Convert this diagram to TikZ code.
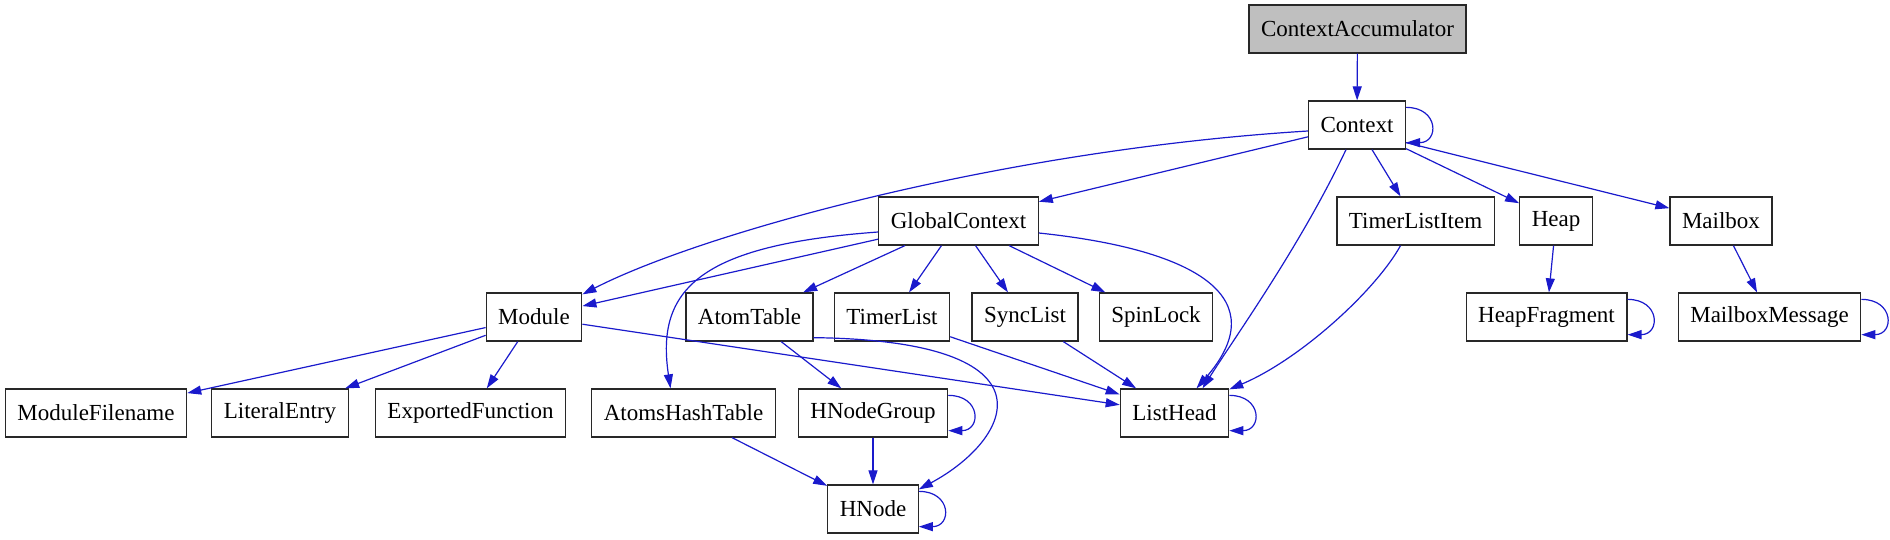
\documentclass[tikz,border=0pt]{standalone}
\usepackage{fontspec}
\setmainfont{Liberation Serif}
\usepackage{tikz}
\usetikzlibrary{arrows.meta}
\definecolor{edgeblue}{RGB}{26,26,204}
\definecolor{rootgray}{RGB}{191,191,191}
\definecolor{boxline}{RGB}{40,40,40}

\begin{document}
\begin{tikzpicture}[
    x=1pt, y=-1pt,
    every node/.style={font=\fontsize{23}{27}\selectfont},
    classbox/.style={draw=boxline, fill=white, line width=1.3pt, inner xsep=12pt, inner ysep=0pt, minimum height=48pt},
    rootbox/.style={classbox, fill=rootgray},
    arr/.style={-{Triangle[length=14pt, width=9pt]}, line width=1.2pt, color=edgeblue}
]
\useasboundingbox (0,0) rectangle (1890,539);

% Rank 0-1: root and Context
\node[rootbox] (ctxacc) at (1357.5,29) {ContextAccumulator};
\node[classbox] (ctx) at (1357,125) {Context};

% Rank 2
\node[classbox] (gctx) at (958.5,221) {GlobalContext};
\node[classbox] (tlitem) at (1415.5,221) {TimerListItem};
\node[classbox] (heap) at (1556,221) {Heap};
\node[classbox] (mbox) at (1721,221) {Mailbox};

% Rank 3
\node[classbox] (module) at (534,317) {Module};
\node[classbox] (atomtab) at (749.5,317) {AtomTable};
\node[classbox] (tlist) at (892,317) {TimerList};
\node[classbox] (slist) at (1025,317) {SyncList};
\node[classbox] (spin) at (1156,317) {SpinLock};
\node[classbox] (heapfrag) at (1546.5,317) {HeapFragment};
\node[classbox] (mboxmsg) at (1769.5,317) {MailboxMessage};

% Rank 4
\node[classbox] (modfile) at (96,413) {ModuleFilename};
\node[classbox] (litentry) at (280,413) {LiteralEntry};
\node[classbox] (expfunc) at (470.5,413) {ExportedFunction};
\node[classbox] (atomhash) at (683.5,413) {AtomsHashTable};
\node[classbox] (hngroup) at (873,413) {HNodeGroup};
\node[classbox] (lhead) at (1174.5,413) {ListHead};

% Rank 5
\node[classbox] (hnode) at (873,509) {HNode};

% Context edges
\draw[arr] (ctxacc) -- (ctx);
\draw[arr] ([yshift=-7pt]ctx.north east) to[out=0, in=0, looseness=2.4] ([yshift=7pt]ctx.south east);
\draw[arr] ([yshift=-6pt]ctx.west) .. controls +(-308,19) and +(119,-61) .. ([yshift=-2pt]module.north east);
\draw[arr] (ctx) -- (gctx);
\draw[arr] ([xshift=-11pt]ctx.south) .. controls +(-45,95) and +(35,-55) .. ([xshift=28pt]lhead.north);
\draw[arr] (ctx) -- (tlitem);
\draw[arr] (ctx) -- (heap);
\draw[arr] ([yshift=7pt]ctx.south east) -- (mbox);

% GlobalContext edges
\draw[arr] (gctx) -- (module);
\draw[arr] ([yshift=-11pt]gctx.west) .. controls +(-179,13) and +(-15,-99) .. ([xshift=-13pt]atomhash.north);
\draw[arr] (gctx) -- (atomtab);
\draw[arr] (gctx) -- (tlist);
\draw[arr] (gctx) -- (slist);
\draw[arr] (gctx) -- (spin);
\draw[arr] ([yshift=-12pt]gctx.east) .. controls +(162,17) and +(78,-89) .. ([xshift=22pt]lhead.north);

% Right branch
\draw[arr] ([xshift=-15pt]tlitem.south) .. controls +(-25,45) and +(71,-30) .. ([yshift=-1pt]lhead.north east);
\draw[arr] (heap) -- (heapfrag);
\draw[arr] ([yshift=-7pt]heapfrag.north east) to[out=0, in=0, looseness=2.4] ([yshift=7pt]heapfrag.south east);
\draw[arr] (mbox) -- (mboxmsg);
\draw[arr] ([yshift=-7pt]mboxmsg.north east) to[out=0, in=0, looseness=2.4] ([yshift=7pt]mboxmsg.south east);

% Module edges
\draw[arr] (module) -- (modfile);
\draw[arr] (module) -- (litentry);
\draw[arr] (module) -- (expfunc);
\draw[arr] (module) -- (lhead);

% Tables and lists
\draw[arr] (atomtab) -- (hngroup);
\draw[arr] ([yshift=4pt]atomtab.south east) .. controls +(249,3) and +(93,-50) .. ([yshift=-5pt]hnode.north east);
\draw[arr] (tlist) -- (lhead);
\draw[arr] (slist) -- (lhead);
\draw[arr] ([yshift=-7pt]lhead.north east) to[out=0, in=0, looseness=2.4] ([yshift=7pt]lhead.south east);
\draw[arr] (atomhash) -- (hnode);
\draw[arr] (hngroup) -- (hnode);
\draw[arr] ([yshift=-7pt]hngroup.north east) to[out=0, in=0, looseness=2.4] ([yshift=7pt]hngroup.south east);
\draw[arr] ([yshift=-7pt]hnode.north east) to[out=0, in=0, looseness=2.4] ([yshift=7pt]hnode.south east);

\end{tikzpicture}
\end{document}
